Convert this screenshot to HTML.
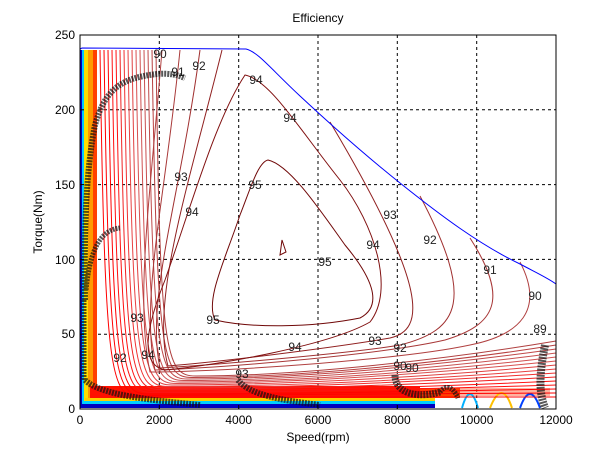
<!DOCTYPE html>
<html><head><meta charset="utf-8"><style>
body{margin:0;background:#fff;}
svg{display:block;font-family:"Liberation Sans",sans-serif;}
</style></head><body>
<svg width="613" height="460" viewBox="0 0 613 460" xmlns="http://www.w3.org/2000/svg">
<rect width="613" height="460" fill="#fff"/>
<text x="318" y="22" font-size="12" text-anchor="middle">Efficiency</text>
<g stroke="#000" stroke-width="1" stroke-dasharray="3,3">
<line x1="159.3" y1="35" x2="159.3" y2="409"/><line x1="238.7" y1="35" x2="238.7" y2="409"/>
<line x1="318" y1="35" x2="318" y2="409"/><line x1="397.3" y1="35" x2="397.3" y2="409"/>
<line x1="476.7" y1="35" x2="476.7" y2="409"/>
<line x1="80" y1="334.2" x2="556" y2="334.2"/><line x1="80" y1="259.4" x2="556" y2="259.4"/>
<line x1="80" y1="184.6" x2="556" y2="184.6"/><line x1="80" y1="109.8" x2="556" y2="109.8"/>
</g>
<rect x="80" y="50" width="2" height="357" fill="#0000c8"/>
<rect x="82" y="50" width="2" height="355" fill="#00c8ff"/>
<rect x="84" y="50" width="4" height="353" fill="#ffe000"/>
<rect x="88" y="50" width="5" height="350" fill="#ff9a00"/>
<rect x="93" y="50" width="4" height="348" fill="#ff4000"/>
<rect x="90" y="386" width="330" height="12" fill="#ff1000"/>
<rect x="420" y="388" width="40" height="10" fill="#ff4000"/>
<rect x="460" y="388" width="90" height="8" fill="#ff8060" opacity="0.6"/>
<rect x="85" y="398" width="350" height="3" fill="#ffd000"/>
<rect x="83" y="401" width="352" height="3" fill="#00d0ff"/>
<rect x="80" y="404" width="355" height="4" fill="#0000c0"/>
<g fill="none" stroke-width="2">
<path d="M462,408 Q470,380 478,408" stroke="#00b0ff"/>
<path d="M490,408 Q502,378 512,408" stroke="#ffc000"/>
<path d="M520,408 Q530,380 540,408" stroke="#0040ff"/>
</g>
<g fill="none" stroke-width="1">
<path d="M100,50 C105,377 110,397 140,397 C300,397 450,397 556,397" stroke="#ff0000"/>
<path d="M104,50 C109,375 114,395.5 144,395.5 C300,395.5 450,394 556,393" stroke="#ff0000"/>
<path d="M108,50 C113,374 118,394 148,394 C300,394 450,391 556,389" stroke="#ff0000"/>
<path d="M112,50 C117,372 122,392.5 152,392.5 C300,392.5 450,388 556,385" stroke="#ff1010"/>
<path d="M116,50 C121,371 126,391 156,391 C300,391 450,386 556,381" stroke="#ff1010"/>
<path d="M120,50 C125,369 130,389.5 160,389.5 C300,389.5 450,383 556,377" stroke="#f02020"/>
<path d="M124,50 C129,368 134,388 164,388 C300,388 450,380 556,373" stroke="#f03030"/>
<path d="M128,50 C133,366 138,386.5 168,386.5 C300,386.5 450,378 556,369" stroke="#e84040"/>
<path d="M132,50 C137,365 142,385 172,385 C300,385 450,375 556,365" stroke="#e04040"/>
<path d="M136,50 C141,363 146,383.5 176,383.5 C300,383.5 450,372 556,361" stroke="#d85050"/>
<path d="M140,50 C145,362 150,382 180,382 C300,382 450,370 556,357" stroke="#d05050"/>
<path d="M144,50 C149,360 154,380.5 184,380.5 C300,380.5 450,367 556,353" stroke="#c85050"/>
<path d="M148,50 C153,359 158,379 188,379 C300,379 450,364 556,349" stroke="#c04848"/>
<path d="M152,50 C157,357 162,377.5 192,377.5 C300,377.5 450,362 556,345" stroke="#b84040"/>
<path d="M156,50 C160,356 165,376 196,376 C300,376 450,359 556,341" stroke="#b04040"/>
<path d="M162,50 C150,200 135,300 150,372 C220,372 400,360 470,345 C520,335 545,310 520,262" stroke="#b04040"/>
<path d="M180,50 C165,200 140,300 155,370 C220,368 380,355 445,340 C495,325 510,300 470,238" stroke="#a83838"/>
<path d="M200,50 C180,200 145,300 160,368 C230,364 360,352 400,345 C460,330 475,300 420,196" stroke="#a03030"/>
<path d="M222,50 C190,180 150,300 168,366 C240,360 350,345 390,338 C425,330 430,290 330,122" stroke="#902020"/>
<path d="M245,75 C270,80 300,130 340,180 C375,225 395,290 370,322 C330,345 220,365 165,370 C140,365 145,330 165,280 C190,210 215,120 245,75 Z" stroke="#801010"/>
<path d="M268,160 C290,165 320,210 345,245 C370,275 385,305 360,318 C310,328 250,328 215,320 C205,300 225,260 240,215 C250,190 258,162 268,160 Z" stroke="#700808"/>
<path d="M282,240 L286,252 L280,255 Z" stroke="#700808"/>
</g>
<path d="M80,49 L82,48 L246,49 C258,52 270,68 300,96 C330,124 365,155 400,183 C440,215 480,245 520,264 C535,272 548,278 556,284" fill="none" stroke="#0000ff" stroke-width="1"/>
<g font-size="12" fill="#222" text-anchor="middle">
<text x="160" y="58">90</text><text x="178" y="76">91</text><text x="199" y="70">92</text>
<text x="181" y="181">93</text><text x="192" y="216">94</text>
<text x="256" y="84">94</text><text x="290" y="122">94</text><text x="373" y="249">94</text>
<text x="295" y="351">94</text><text x="148" y="359">94</text>
<text x="255" y="189">95</text><text x="325" y="266">95</text><text x="213" y="324">95</text>
<text x="390" y="219">93</text><text x="430" y="244">92</text><text x="490" y="274">91</text>
<text x="535" y="300">90</text><text x="137" y="322">93</text><text x="120" y="362">92</text>
<text x="375" y="345">93</text><text x="400" y="352">92</text><text x="242" y="378">93</text>
<text x="540" y="333">89</text><text x="400" y="370">90</text><text x="412" y="372">90</text>
</g>
<g fill="none" stroke="#111" stroke-dasharray="2,1" opacity="0.7">
<path d="M85,300 C84,230 86,170 95,125 C105,90 120,78 157,74 C170,73 178,75 185,78" stroke-width="6"/>
<path d="M84,380 L84,300" stroke-width="5"/>
<path d="M86,290 C90,250 100,230 120,228" stroke-width="5"/>
<path d="M85,380 C100,395 150,400 200,405" stroke-width="6"/>
<path d="M238,380 C250,395 280,400 320,405" stroke-width="6"/>
<path d="M395,375 C395,395 420,398 440,392" stroke-width="7"/>
<path d="M440,392 C445,385 452,385 458,398" stroke-width="5"/>
<path d="M545,345 C538,380 540,395 545,408" stroke-width="8"/>
</g>
<rect x="80" y="35" width="476" height="374" fill="none" stroke="#000" stroke-width="1"/>
<g stroke="#000">
<line x1="159.3" y1="409" x2="159.3" y2="405"/><line x1="238.7" y1="409" x2="238.7" y2="405"/>
<line x1="318" y1="409" x2="318" y2="405"/><line x1="397.3" y1="409" x2="397.3" y2="405"/>
<line x1="476.7" y1="409" x2="476.7" y2="405"/>
<line x1="80" y1="334.2" x2="84" y2="334.2"/><line x1="80" y1="259.4" x2="84" y2="259.4"/>
<line x1="80" y1="184.6" x2="84" y2="184.6"/><line x1="80" y1="109.8" x2="84" y2="109.8"/>
</g>
<g font-size="12" fill="#000">
<g text-anchor="middle">
<text x="80" y="424">0</text><text x="159.3" y="424">2000</text><text x="238.7" y="424">4000</text>
<text x="318" y="424">6000</text><text x="397.3" y="424">8000</text><text x="476.7" y="424">10000</text>
<text x="556" y="424">12000</text>
</g>
<g text-anchor="end">
<text x="75" y="413">0</text><text x="75" y="338">50</text><text x="75" y="264">100</text>
<text x="75" y="189">150</text><text x="75" y="114">200</text><text x="75" y="39">250</text>
</g>
<text x="318" y="441" text-anchor="middle">Speed(rpm)</text>
<text x="0" y="0" text-anchor="middle" transform="translate(42,222) rotate(-90)">Torque(Nm)</text>
</g>
</svg>
</body></html>
